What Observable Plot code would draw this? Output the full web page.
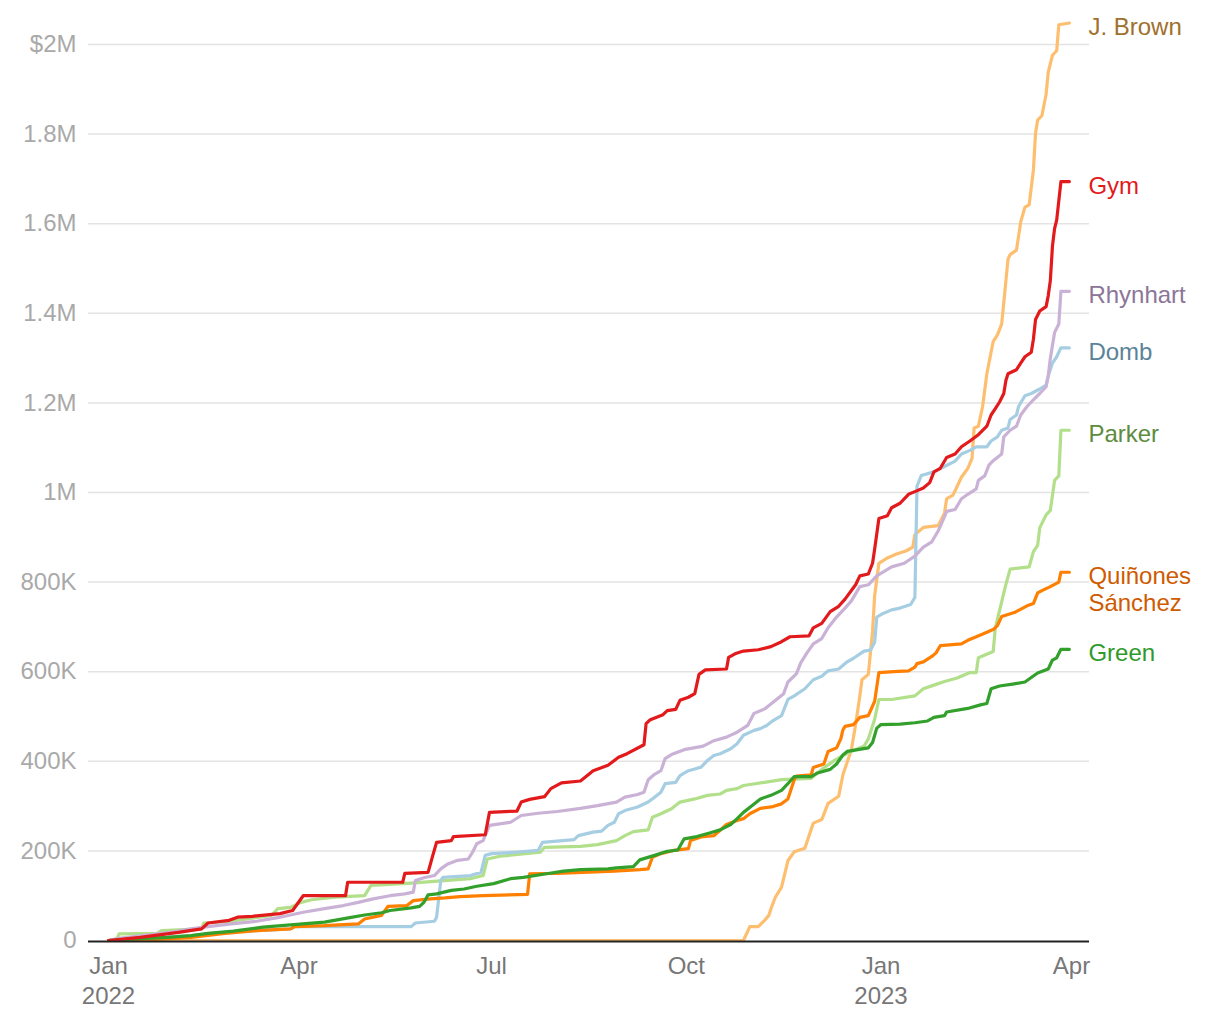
<!DOCTYPE html>
<html><head><meta charset="utf-8">
<script src="https://cdn.jsdelivr.net/npm/d3@7"></script>
<script src="https://cdn.jsdelivr.net/npm/@observablehq/plot@0.6"></script>
<style>
html,body{margin:0;padding:0;background:#fff;}
#chart svg{display:block;}
</style></head><body><div id="chart"></div>
<script>
// Cumulative fundraising, in thousands of dollars
const jBrown = [["2022-01-01",0],["2022-10-28",0],["2022-10-31",31],["2022-11-04",31],["2022-11-07",45],["2022-11-09",56],["2022-11-10",71],["2022-11-12",96],["2022-11-15",119],["2022-11-18",178],["2022-11-21",198],["2022-11-26",206],["2022-11-30",262],["2022-12-04",270],["2022-12-07",306],["2022-12-12",322],["2022-12-14",370],["2022-12-18",426],["2022-12-20",482],["2022-12-22",546],["2022-12-23",582],["2022-12-26",594],["2022-12-28",690],["2022-12-29",770],["2022-12-31",842],["2023-01-04",854],["2023-01-08",862],["2023-01-13",870],["2023-01-16",878],["2023-01-17",906],["2023-01-21",922],["2023-01-28",926],["2023-01-31",954],["2023-02-01",986],["2023-02-04",994],["2023-02-08",1034],["2023-02-11",1054],["2023-02-13",1076],["2023-02-14",1144],["2023-02-16",1148],["2023-02-18",1192],["2023-02-20",1265],["2023-02-23",1337],["2023-02-25",1352],["2023-02-27",1376],["2023-02-28",1424],["2023-03-02",1521],["2023-03-03",1531],["2023-03-06",1541],["2023-03-08",1604],["2023-03-10",1637],["2023-03-12",1642],["2023-03-14",1720],["2023-03-15",1802],["2023-03-16",1831],["2023-03-18",1841],["2023-03-20",1889],["2023-03-21",1938],["2023-03-23",1976],["2023-03-25",1986],["2023-03-26",2044],["2023-03-31",2048]];

const gym = [["2022-01-01",0],["2022-01-16",7],["2022-02-03",18],["2022-02-14",26],["2022-02-17",39],["2022-02-27",45],["2022-03-03",52],["2022-03-10",54],["2022-03-23",60],["2022-03-29",67],["2022-04-03",100],["2022-04-23",100],["2022-04-24",130],["2022-05-20",130],["2022-05-21",150],["2022-06-01",152],["2022-06-03",186],["2022-06-05",219],["2022-06-12",223],["2022-06-13",232],["2022-06-28",236],["2022-06-30",286],["2022-07-13",289],["2022-07-15",309],["2022-07-19",315],["2022-07-26",321],["2022-07-29",339],["2022-08-03",352],["2022-08-12",356],["2022-08-18",379],["2022-08-25",391],["2022-08-30",409],["2022-09-03",417],["2022-09-11",437],["2022-09-12",484],["2022-09-14",493],["2022-09-20",504],["2022-09-22",513],["2022-09-26",516],["2022-09-28",536],["2022-10-02",543],["2022-10-05",551],["2022-10-07",594],["2022-10-10",604],["2022-10-20",606],["2022-10-21",632],["2022-10-24",640],["2022-10-28",646],["2022-11-04",649],["2022-11-10",656],["2022-11-15",667],["2022-11-19",678],["2022-11-28",680],["2022-11-30",698],["2022-12-04",708],["2022-12-08",734],["2022-12-12",746],["2022-12-15",762],["2022-12-20",794],["2022-12-22",814],["2022-12-26",818],["2022-12-28",842],["2022-12-29",874],["2022-12-31",942],["2023-01-04",948],["2023-01-06",966],["2023-01-10",976],["2023-01-14",996],["2023-01-17",1002],["2023-01-21",1010],["2023-01-24",1022],["2023-01-26",1046],["2023-01-29",1054],["2023-02-01",1078],["2023-02-05",1086],["2023-02-08",1102],["2023-02-12",1115],["2023-02-16",1129],["2023-02-20",1148],["2023-02-22",1173],["2023-02-24",1187],["2023-02-26",1202],["2023-02-28",1221],["2023-03-01",1250],["2023-03-02",1265],["2023-03-06",1274],["2023-03-08",1289],["2023-03-10",1303],["2023-03-13",1313],["2023-03-14",1342],["2023-03-15",1386],["2023-03-17",1405],["2023-03-20",1415],["2023-03-21",1439],["2023-03-22",1473],["2023-03-23",1550],["2023-03-24",1589],["2023-03-25",1608],["2023-03-27",1694],["2023-03-31",1694]];

const rhynhart = [["2022-01-01",0],["2022-01-05",4],["2022-01-30",18],["2022-02-09",26],["2022-02-17",31],["2022-02-28",37],["2022-03-12",43],["2022-03-22",51],["2022-03-28",57],["2022-04-03",63],["2022-04-13",71],["2022-04-22",78],["2022-04-29",85],["2022-05-06",93],["2022-05-14",100],["2022-05-21",104],["2022-05-25",108],["2022-05-26",134],["2022-05-30",140],["2022-06-04",145],["2022-06-07",160],["2022-06-10",170],["2022-06-15",179],["2022-06-20",182],["2022-06-22",197],["2022-06-24",216],["2022-06-27",223],["2022-06-30",257],["2022-07-10",264],["2022-07-15",279],["2022-07-23",284],["2022-08-01",288],["2022-08-12",295],["2022-08-20",301],["2022-08-29",309],["2022-09-02",320],["2022-09-08",326],["2022-09-11",331],["2022-09-13",359],["2022-09-16",371],["2022-09-19",379],["2022-09-21",406],["2022-09-24",415],["2022-09-30",426],["2022-10-09",434],["2022-10-14",446],["2022-10-20",454],["2022-10-25",465],["2022-10-30",480],["2022-11-02",507],["2022-11-07",517],["2022-11-11",532],["2022-11-16",551],["2022-11-18",577],["2022-11-22",595],["2022-11-24",619],["2022-11-27",642],["2022-11-30",662],["2022-12-04",674],["2022-12-07",698],["2022-12-11",722],["2022-12-15",742],["2022-12-18",758],["2022-12-22",790],["2022-12-26",794],["2022-12-30",814],["2023-01-06",834],["2023-01-12",842],["2023-01-17",858],["2023-01-21",878],["2023-01-25",890],["2023-01-28",914],["2023-01-31",946],["2023-02-01",958],["2023-02-05",962],["2023-02-08",986],["2023-02-11",996],["2023-02-15",1008],["2023-02-16",1027],["2023-02-19",1037],["2023-02-21",1061],["2023-02-23",1071],["2023-02-27",1086],["2023-02-28",1124],["2023-03-03",1139],["2023-03-06",1148],["2023-03-08",1173],["2023-03-11",1192],["2023-03-14",1207],["2023-03-17",1221],["2023-03-20",1236],["2023-03-21",1260],["2023-03-22",1299],["2023-03-24",1357],["2023-03-26",1376],["2023-03-27",1449],["2023-03-31",1449]];

const domb = [["2022-01-01",0],["2022-01-16",4],["2022-02-09",11],["2022-02-25",18],["2022-03-12",22],["2022-03-28",26],["2022-03-30",31],["2022-05-24",31],["2022-05-26",39],["2022-06-04",43],["2022-06-05",52],["2022-06-07",134],["2022-06-08",141],["2022-06-21",145],["2022-06-26",152],["2022-06-28",190],["2022-07-01",194],["2022-07-12",197],["2022-07-23",201],["2022-07-25",219],["2022-08-09",225],["2022-08-11",234],["2022-08-18",242],["2022-08-22",244],["2022-08-25",257],["2022-08-28",264],["2022-08-30",283],["2022-09-02",290],["2022-09-08",298],["2022-09-13",309],["2022-09-16",320],["2022-09-19",331],["2022-09-21",350],["2022-09-26",353],["2022-09-28",368],["2022-10-02",379],["2022-10-05",383],["2022-10-08",387],["2022-10-11",402],["2022-10-14",413],["2022-10-17",417],["2022-10-22",428],["2022-10-25",439],["2022-10-28",458],["2022-11-02",469],["2022-11-05",473],["2022-11-08",480],["2022-11-11",491],["2022-11-15",502],["2022-11-18",538],["2022-11-21",546],["2022-11-26",562],["2022-11-30",582],["2022-12-04",590],["2022-12-07",602],["2022-12-12",606],["2022-12-16",622],["2022-12-19",630],["2022-12-24",646],["2022-12-27",648],["2022-12-29",666],["2022-12-30",722],["2023-01-02",730],["2023-01-06",738],["2023-01-10",742],["2023-01-15",750],["2023-01-17",766],["2023-01-18",1014],["2023-01-20",1038],["2023-01-26",1046],["2023-01-31",1058],["2023-02-05",1070],["2023-02-08",1086],["2023-02-12",1094],["2023-02-15",1102],["2023-02-20",1102],["2023-02-22",1115],["2023-02-25",1124],["2023-02-27",1139],["2023-03-02",1144],["2023-03-03",1163],["2023-03-06",1173],["2023-03-07",1192],["2023-03-10",1216],["2023-03-13",1221],["2023-03-17",1231],["2023-03-20",1240],["2023-03-21",1260],["2023-03-23",1289],["2023-03-25",1303],["2023-03-27",1323],["2023-03-31",1323]];

const parker = [["2022-01-01",0],["2022-01-05",4],["2022-01-06",15],["2022-01-24",16],["2022-01-26",22],["2022-02-14",26],["2022-02-15",39],["2022-02-28",43],["2022-03-19",56],["2022-03-22",71],["2022-03-28",74],["2022-04-02",85],["2022-04-07",91],["2022-04-18",97],["2022-05-02",100],["2022-05-05",123],["2022-05-24",128],["2022-06-21",138],["2022-06-27",145],["2022-06-29",182],["2022-07-05",188],["2022-07-24",197],["2022-07-26",208],["2022-08-12",210],["2022-08-20",214],["2022-08-29",223],["2022-09-02",234],["2022-09-06",243],["2022-09-13",247],["2022-09-15",275],["2022-09-19",283],["2022-09-24",294],["2022-09-28",309],["2022-10-05",316],["2022-10-11",324],["2022-10-17",327],["2022-10-20",335],["2022-10-25",339],["2022-10-28",346],["2022-11-07",353],["2022-11-15",359],["2022-11-29",362],["2022-12-04",382],["2022-12-10",402],["2022-12-16",418],["2022-12-24",434],["2022-12-26",450],["2022-12-29",494],["2022-12-31",538],["2023-01-06",538],["2023-01-17",546],["2023-01-21",562],["2023-01-26",570],["2023-01-31",578],["2023-02-06",586],["2023-02-12",598],["2023-02-15",598],["2023-02-16",631],["2023-02-23",645],["2023-02-24",698],["2023-02-27",756],["2023-03-01",795],["2023-03-03",829],["2023-03-12",834],["2023-03-14",868],["2023-03-16",882],["2023-03-17",921],["2023-03-20",950],["2023-03-22",960],["2023-03-24",1027],["2023-03-26",1037],["2023-03-27",1139],["2023-03-31",1139]];

const quinonesSanchez = [["2022-01-01",0],["2022-01-16",0],["2022-02-09",7],["2022-02-24",15],["2022-03-12",22],["2022-03-28",26],["2022-03-30",31],["2022-04-13",33],["2022-04-29",37],["2022-05-02",48],["2022-05-10",56],["2022-05-13",76],["2022-05-22",78],["2022-05-25",89],["2022-06-02",93],["2022-06-09",95],["2022-06-16",98],["2022-06-27",100],["2022-07-18",103],["2022-07-19",149],["2022-08-01",150],["2022-08-28",155],["2022-09-09",158],["2022-09-13",160],["2022-09-15",186],["2022-09-19",194],["2022-09-25",201],["2022-10-02",205],["2022-10-03",223],["2022-10-08",231],["2022-10-14",234],["2022-10-17",246],["2022-10-20",259],["2022-10-25",268],["2022-10-28",272],["2022-10-31",283],["2022-11-05",295],["2022-11-11",299],["2022-11-15",305],["2022-11-18",316],["2022-11-21",359],["2022-11-22",367],["2022-11-29",370],["2022-11-30",386],["2022-12-05",394],["2022-12-07",422],["2022-12-11",430],["2022-12-13",450],["2022-12-14",470],["2022-12-15",478],["2022-12-19",482],["2022-12-22",498],["2022-12-26",502],["2022-12-29",534],["2022-12-31",598],["2023-01-07",600],["2023-01-14",602],["2023-01-17",610],["2023-01-18",618],["2023-01-21",622],["2023-01-25",634],["2023-01-27",642],["2023-01-29",658],["2023-02-08",662],["2023-02-11",670],["2023-02-17",682],["2023-02-23",694],["2023-02-25",703],["2023-02-27",723],["2023-03-05",732],["2023-03-11",747],["2023-03-14",752],["2023-03-16",776],["2023-03-18",781],["2023-03-22",790],["2023-03-24",795],["2023-03-26",800],["2023-03-27",822],["2023-03-31",822]];

const green = [["2022-01-01",0],["2022-01-16",4],["2022-01-29",7],["2022-02-09",11],["2022-02-17",16],["2022-03-01",21],["2022-03-15",30],["2022-03-28",35],["2022-04-13",41],["2022-04-25",51],["2022-05-02",57],["2022-05-10",62],["2022-05-14",67],["2022-05-24",73],["2022-05-28",76],["2022-05-30",85],["2022-06-01",102],["2022-06-05",104],["2022-06-12",112],["2022-06-18",115],["2022-06-24",121],["2022-07-02",127],["2022-07-10",138],["2022-07-16",141],["2022-07-27",149],["2022-08-04",155],["2022-08-12",158],["2022-08-25",160],["2022-08-29",162],["2022-09-06",165],["2022-09-09",180],["2022-09-16",190],["2022-09-22",199],["2022-09-27",202],["2022-09-30",227],["2022-10-06",232],["2022-10-12",240],["2022-10-17",247],["2022-10-22",259],["2022-10-25",272],["2022-10-28",286],["2022-11-01",301],["2022-11-05",316],["2022-11-10",324],["2022-11-15",335],["2022-11-18",350],["2022-11-21",366],["2022-11-29",366],["2022-12-02",374],["2022-12-08",382],["2022-12-11",394],["2022-12-14",414],["2022-12-16",422],["2022-12-26",430],["2022-12-28",442],["2022-12-30",474],["2023-01-01",482],["2023-01-10",483],["2023-01-17",486],["2023-01-23",490],["2023-01-26",498],["2023-01-31",502],["2023-02-01",510],["2023-02-11",518],["2023-02-17",526],["2023-02-20",529],["2023-02-22",562],["2023-02-26",568],["2023-03-05",573],["2023-03-10",577],["2023-03-13",587],["2023-03-16",597],["2023-03-21",606],["2023-03-23",626],["2023-03-25",631],["2023-03-27",650],["2023-03-31",650]];

const seriesNames = ["J. Brown","Gym","Rhynhart","Domb","Parker","Quiñones Sánchez","Green"];
const seriesData = [jBrown, gym, rhynhart, domb, parker, quinonesSanchez, green];
const endLabels = ["J. Brown","Gym","Rhynhart","Domb","Parker","Quiñones\nSánchez","Green"];
const lineColors = ["#fdbf6f","#e31a1c","#cab2d6","#a6cee3","#b2df8a","#ff7f00","#33a02c"];
const labelColors = ["#a0702c","#e31a1c","#8c7599","#5a8398","#5c8c40","#cf5a00","#2f9a2a"];
const drawOrder = ["J. Brown","Parker","Domb","Rhynhart","Quiñones Sánchez","Green","Gym"];

const yTicks = [0,200000,400000,600000,800000,1000000,1200000,1400000,1600000,1800000,2000000];
const yTickLabels = ["0","200K","400K","600K","800K","1M","1.2M","1.4M","1.6M","1.8M","$2M"];
const xTicks = ["2022-01-01","2022-04-01","2022-07-01","2022-10-01","2023-01-01","2023-04-01"];
const xTickLabels = ["Jan\n2022","Apr","Jul","Oct","Jan\n2023","Apr"];

const FONT = "'Liberation Sans', Arial, sans-serif";
const FS = 24;

const series = seriesNames.map((name, i) => ({
  name,
  label: endLabels[i],
  color: lineColors[i],
  labelColor: labelColors[i],
  rows: seriesData[i].map(([d, v]) => ({date: new Date(d), value: v * 1000}))
}));
const byName = new Map(series.map(s => [s.name, s]));

const yLabelMap = new Map(yTicks.map((t, i) => [t, yTickLabels[i]]));
const xTickDates = xTicks.map(d => new Date(d));
const xLabelMap = new Map(xTickDates.map((d, i) => [+d, xTickLabels[i]]));

const marks = [
  Plot.gridY(yTicks.filter(d => d > 0), {stroke: "#e3e3e3", strokeOpacity: 1, strokeWidth: 1.5}),
  Plot.axisY(yTicks, {tickSize: 0, tickPadding: 12, tickFormat: d => yLabelMap.get(d), fill: "#a9a9a9", fontSize: FS, label: null}),
  Plot.axisX(xTickDates, {tickSize: 0, tickPadding: 12, tickFormat: d => xLabelMap.get(+d), fill: "#777", fontSize: FS, lineHeight: 1.25, label: null})
];
for (const name of drawOrder) {
  const s = byName.get(name);
  marks.push(Plot.line(s.rows, {x: "date", y: "value", stroke: s.color, strokeWidth: 3.2, curve: "linear"}));
}
marks.push(Plot.ruleY([0], {stroke: "#222", strokeWidth: 2, dy: 1}));
for (const s of series) {
  const last = s.rows[s.rows.length - 1];
  marks.push(Plot.text([last], {x: "date", y: "value", text: () => s.label, fill: s.labelColor, textAnchor: "start", lineAnchor: "top", dx: 19, dy: -7, fontSize: FS, lineHeight: 1.12}));
}

const chart = Plot.plot({
  width: 1220,
  height: 1020,
  marginLeft: 88,
  marginRight: 131,
  marginTop: 44,
  marginBottom: 80,
  insetLeft: 20,
  insetRight: 18,
  style: {fontFamily: FONT, fontSize: FS + "px", background: "#fff"},
  x: {type: "utc", domain: [new Date("2022-01-01"), new Date("2023-04-01")]},
  y: {domain: [0, 2000000]},
  marks
});
document.getElementById("chart").appendChild(chart);
</script>
</body></html>
